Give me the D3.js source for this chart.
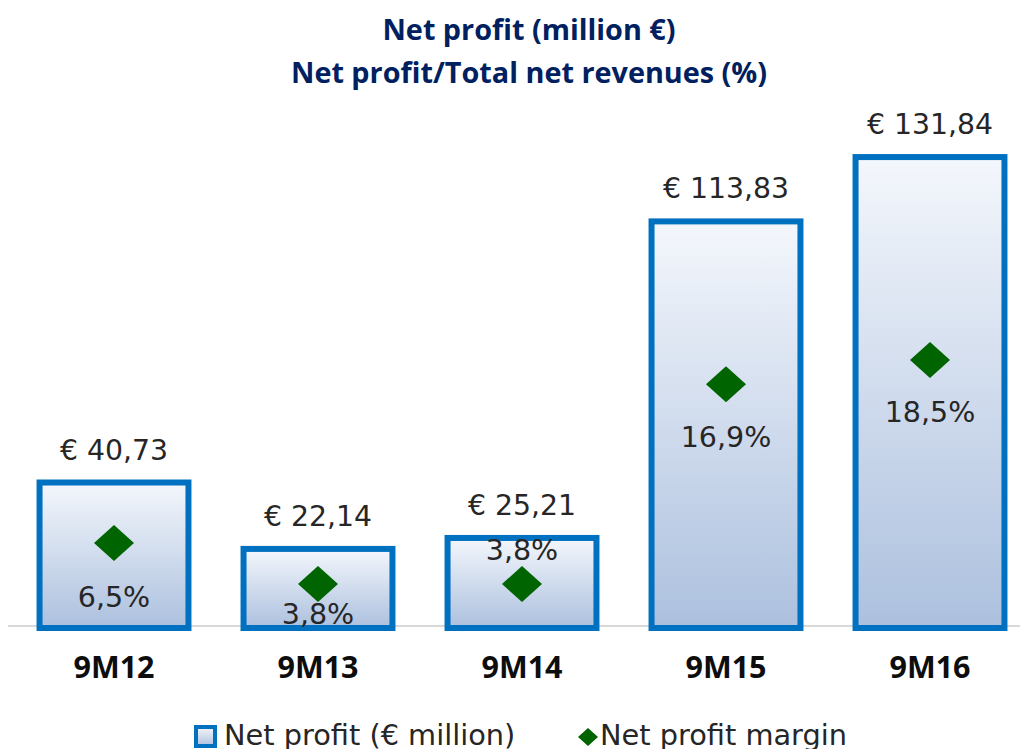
<!DOCTYPE html>
<html>
<head>
<meta charset="utf-8">
<script src="https://cdn.jsdelivr.net/npm/d3@7"></script>
<style>
  html, body { margin: 0; padding: 0; background: #fff; overflow: hidden; }
  svg { display: block; }
</style>
</head>
<body>
<svg id="chart" width="1020" height="749"></svg>
<script>
// Data
const categories = ['9M12', '9M13', '9M14', '9M15', '9M16'];
const netProfit = [40.73, 22.14, 25.21, 113.83, 131.84];
const margin = [6.5, 3.8, 3.8, 16.9, 18.5];
const titleLines = ['Net profit (million €)', 'Net profit/Total net revenues (%)'];
const legendLabels = ['Net profit (€ million)', 'Net profit margin'];

// Manual placement of the margin labels relative to their diamond (as in the source)
const marginLabelDy = [54, 30, -34, 53, 52];

const fmt = (v, d) => v.toFixed(d).replace('.', ',');

const svg = d3.select('#chart');
const defs = svg.append('defs');

const grad = defs.append('linearGradient')
  .attr('id', 'barFill')
  .attr('x1', 0).attr('y1', 0).attr('x2', 0).attr('y2', 1);
grad.append('stop').attr('offset', '0%').attr('stop-color', '#F4F7FC');
grad.append('stop').attr('offset', '100%').attr('stop-color', '#ACC0DE');

const x = d3.scaleBand()
  .domain(categories)
  .range([12, 1032])
  .paddingInner(0.27)
  .paddingOuter(0.135);

const y = d3.scaleLinear().domain([0, 140]).range([628, 628 - 140 * 3.572]);
const y2 = d3.scaleLinear().domain([0, 20]).range([642, 642 - 20 * 15.25]);

// Title
svg.append('g')
  .selectAll('text')
  .data(titleLines)
  .join('text')
  .attr('x', 529)
  .attr('y', (d, i) => 40 + i * 43)
  .attr('text-anchor', 'middle')
  .attr('font-family', '"Open Sans", sans-serif')
  .attr('font-weight', 700)
  .attr('font-size', 28.8)
  .attr('fill', '#002060')
  .text(d => d);

// Baseline
svg.append('line')
  .attr('x1', 8).attr('x2', 1020)
  .attr('y1', 626).attr('y2', 626)
  .attr('stroke', '#D9D9D9')
  .attr('stroke-width', 2);

const rows = categories.map((c, i) => ({ c, v: netProfit[i], m: margin[i], dy: marginLabelDy[i] }));

// Bars
svg.append('g')
  .selectAll('rect')
  .data(rows)
  .join('rect')
  .attr('x', d => x(d.c))
  .attr('y', d => y(d.v))
  .attr('width', x.bandwidth())
  .attr('height', d => y(0) - y(d.v))
  .attr('fill', 'url(#barFill)')
  .attr('stroke', '#0070C0')
  .attr('stroke-width', 6);

// Value labels
svg.append('g')
  .selectAll('text')
  .data(rows)
  .join('text')
  .attr('x', d => x(d.c) + x.bandwidth() / 2)
  .attr('y', d => y(d.v) - 23)
  .attr('text-anchor', 'middle')
  .attr('font-family', '"DejaVu Sans", sans-serif')
  .attr('font-size', 28.3)
  .attr('fill', '#262626')
  .text(d => '€ ' + fmt(d.v, 2));

// Margin diamonds
const diamond = 'M0,-18L20,0L0,18L-20,0Z';
svg.append('g')
  .selectAll('path')
  .data(rows)
  .join('path')
  .attr('transform', d => `translate(${x(d.c) + x.bandwidth() / 2},${y2(d.m)})`)
  .attr('d', diamond)
  .attr('fill', '#006400');

// Margin labels
svg.append('g')
  .selectAll('text')
  .data(rows)
  .join('text')
  .attr('x', d => x(d.c) + x.bandwidth() / 2)
  .attr('y', d => y2(d.m) + d.dy + 10)
  .attr('text-anchor', 'middle')
  .attr('font-family', '"DejaVu Sans", sans-serif')
  .attr('font-size', 28.5)
  .attr('fill', '#262626')
  .text(d => fmt(d.m, 1) + '%');

// Category axis labels
const xAxis = d3.axisBottom(x).tickSize(0).tickPadding(0);
const gx = svg.append('g').attr('transform', 'translate(0,656)').call(xAxis);
gx.select('.domain').remove();
gx.selectAll('text')
  .attr('font-family', '"Open Sans", sans-serif')
  .attr('font-weight', 700)
  .attr('font-size', 30.5)
  .attr('fill', '#0D0D0D')
  .attr('dy', '0.71em');

// Legend
const leg = svg.append('g');
leg.append('rect')
  .attr('x', 196).attr('y', 727)
  .attr('width', 19).attr('height', 19)
  .attr('fill', 'url(#barFill)')
  .attr('stroke', '#0070C0')
  .attr('stroke-width', 4);
leg.append('text')
  .attr('x', 224).attr('y', 745)
  .attr('font-family', '"DejaVu Sans", sans-serif')
  .attr('font-size', 28.8)
  .attr('fill', '#262626')
  .text(legendLabels[0]);
leg.append('path')
  .attr('transform', 'translate(588,737)')
  .attr('d', 'M0,-9L10,0L0,9L-10,0Z')
  .attr('fill', '#006400');
leg.append('text')
  .attr('x', 600).attr('y', 745)
  .attr('font-family', '"DejaVu Sans", sans-serif')
  .attr('font-size', 28.8)
  .attr('fill', '#262626')
  .text(legendLabels[1]);
</script>
</body>
</html>
